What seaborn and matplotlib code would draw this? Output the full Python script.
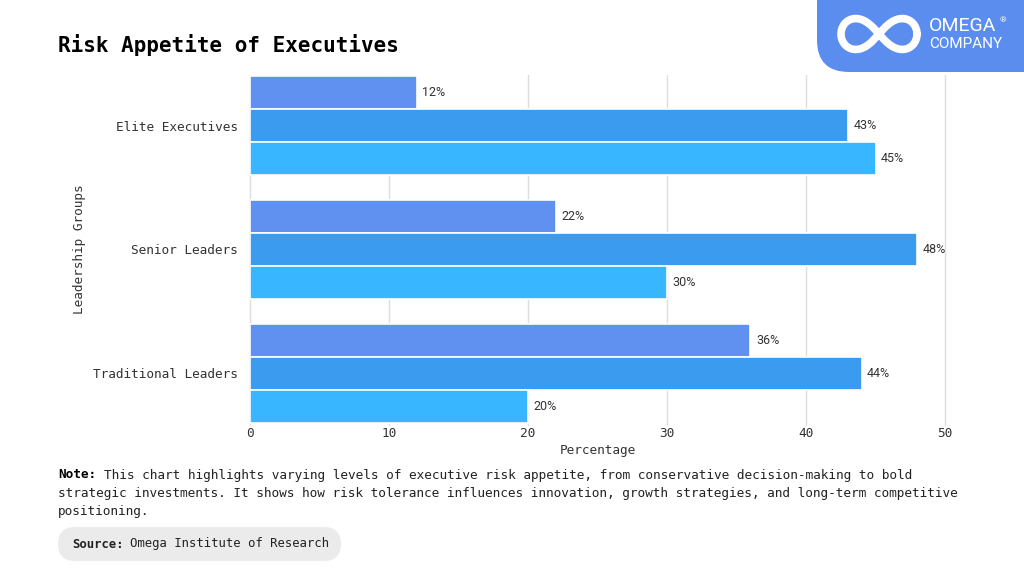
#!/usr/bin/env python3
"""
Risk appetite of executives - grouped horizontal bar chart.
"""

import numpy as np
import pandas as pd
import matplotlib.pyplot as plt
import seaborn as sns
from matplotlib.patches import FancyBboxPatch

groups = ["Elite Executives", "Senior Leaders", "Traditional Leaders"]
series = ["Conservative", "Moderate", "Aggressive"]
conservative = [12, 22, 36]
moderate = [43, 48, 44]
aggressive = [45, 30, 20]
x_ticks = [0, 10, 20, 30, 40, 50]

colors = ["#6090F0", "#3A9BEF", "#38B6FF"]
MONO = "DejaVu Sans Mono"
H = 576


def build_frame():
    rows = []
    for name, vals in zip(series, [conservative, moderate, aggressive]):
        for g, v in zip(groups, vals):
            rows.append({"group": g, "series": name, "value": v})
    return pd.DataFrame(rows)


def px(x, y):
    """pixel position from top-left -> figure fraction"""
    return x / 1024, 1 - y / H


def draw_logo(fig):
    # rounded badge in the top-right corner, drawn in display pixels
    badge = FancyBboxPatch((817, H - 72), 260, 120,
                           boxstyle="round,pad=0,rounding_size=32",
                           transform=None, facecolor="#5B8DEF",
                           edgecolor="none", zorder=5)
    fig.patches.append(badge)
    t = np.linspace(0, 2 * np.pi, 300)
    cx, cy = px(879, 34)
    lx = 38 * np.cos(t) / (1 + np.sin(t) ** 2)
    ly = 38 * np.sin(t) * np.cos(t) / (1 + np.sin(t) ** 2)
    fig.add_artist(plt.Line2D(cx + lx / 1024, cy + ly * 1.15 / H,
                              transform=fig.transFigure, color="white",
                              lw=5.5, solid_capstyle="round", zorder=6))
    fig.text(*px(929, 26), "OMEGA", color="white", fontsize=14,
             family="Roboto", va="center", ha="left", zorder=7)
    fig.text(*px(1000, 20), "®", color="white", fontsize=6,
             family="Roboto", va="center", ha="left", zorder=7)
    fig.text(*px(929, 44), "COMPANY", color="white", fontsize=11,
             family="Roboto", va="center", ha="left", zorder=7)


if __name__ == "__main__":
    df = build_frame()
    sns.set_theme(style="white")
    plt.rcParams["font.family"] = [MONO, "DejaVu Sans"]

    fig = plt.figure(figsize=(10.24, 5.76), dpi=100)
    ax = fig.add_axes([250 / 1024, 1 - 424.5 / H, 695 / 1024, 350 / H])

    sns.barplot(data=df, y="group", x="value", hue="series", order=groups,
                hue_order=series, palette=colors, orient="h", width=0.8,
                saturation=1, edgecolor="white", linewidth=1.2, legend=False,
                ax=ax, zorder=3)

    for cont in ax.containers:
        ax.bar_label(cont, labels=[f"{int(v)}%" for v in cont.datavalues],
                     padding=4, fontsize=9, family="Roboto", color="#333333")

    ax.set_xlim(0, 50)
    ax.set_ylim(2.416, -0.416)
    ax.set_xticks(x_ticks)
    ax.xaxis.grid(True, color="#DDDDDD", lw=1, zorder=0)
    for gl in ax.get_xgridlines():
        gl.set_clip_on(False)
    ax.yaxis.grid(False)
    for s in ax.spines.values():
        s.set_visible(False)
    ax.tick_params(axis="both", length=0, labelsize=9.2, colors="#333333")
    ax.tick_params(axis="x", pad=2)
    ax.tick_params(axis="y", pad=9)
    ax.set_xlabel("Percentage", fontsize=9.2, color="#333333", labelpad=3)
    ax.set_ylabel("Leadership Groups", fontsize=9.2, color="#333333",
                  labelpad=5)

    fig.text(*px(58, 45), "Risk Appetite of Executives",
             fontsize=15, fontweight="bold", color="black", va="center")

    note_lines = [
        "This chart highlights varying levels of executive risk appetite, "
        "from conservative decision-making to bold",
        "strategic investments. It shows how risk tolerance influences "
        "innovation, growth strategies, and long-term competitive",
        "positioning.",
    ]
    fig.text(*px(58, 475), "Note:", fontsize=9.2, fontweight="bold",
             color="black", va="center")
    fig.text(*px(104, 475), note_lines[0], fontsize=9.2, color="#222222",
             va="center")
    fig.text(*px(58, 493), note_lines[1], fontsize=9.2, color="#222222",
             va="center")
    fig.text(*px(58, 511), note_lines[2], fontsize=9.2, color="#222222",
             va="center")

    pill = FancyBboxPatch((58, H - 561), 283, 34,
                          boxstyle="round,pad=0,rounding_size=17",
                          transform=None, facecolor="#EBEBEB",
                          edgecolor="none")
    fig.patches.append(pill)
    fig.text(*px(72, 544), "Source:", fontsize=8.8, fontweight="bold",
             color="#222222", va="center")
    fig.text(*px(130, 544), "Omega Institute of Research", fontsize=8.8,
             color="#222222", va="center")

    draw_logo(fig)
    fig.savefig("out.png", dpi=100)
    plt.close(fig)
